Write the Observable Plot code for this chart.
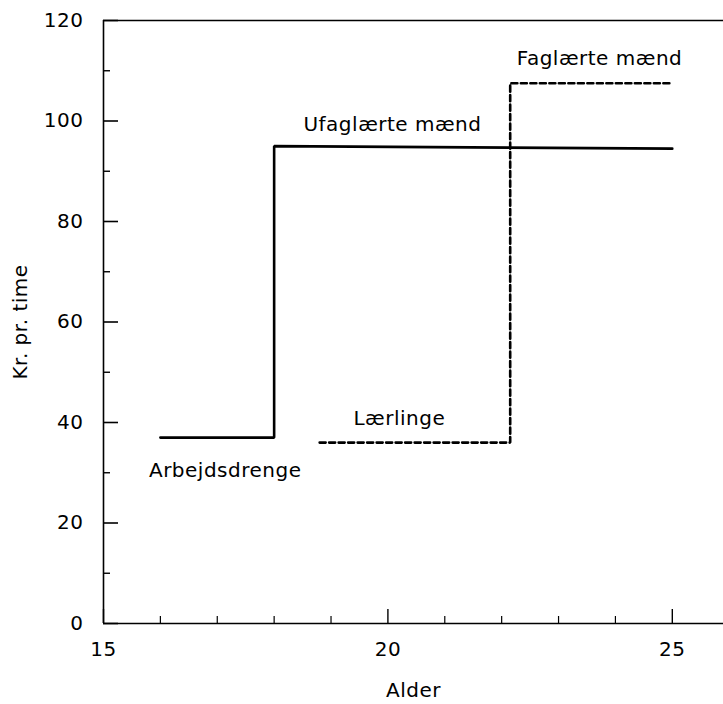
<!DOCTYPE html>
<html>
<head>
<meta charset="utf-8">
<script src="https://cdn.jsdelivr.net/npm/d3@7"></script>
<script src="https://cdn.jsdelivr.net/npm/@observablehq/plot@0.6"></script>
<style>
  html, body { margin: 0; padding: 0; background: #fff; }
</style>
</head>
<body>
<div id="chart"></div>
<script>
// Ufaglærte mænd (incl. Arbejdsdrenge) — solid step line
const ufaglaerteAlder = [16, 18, 18, 25];
const ufaglaerteKr    = [37, 37, 95, 94.5];

// Lærlinge -> Faglærte mænd — dashed step line
const laerlingeAlder = [18.8, 22.15, 22.15, 25];
const laerlingeKr    = [36, 36, 107.5, 107.5];

// In-chart labels
const labelText  = ["Faglærte mænd", "Ufaglærte mænd", "Lærlinge", "Arbejdsdrenge"];
const labelAlder = [23.72, 20.08, 20.2, 17.14];
const labelKr    = [112.4, 99.3, 40.8, 30.4];

// Axis ticks
const xMajor = [15, 20, 25];
const xMinor = [16, 17, 18, 19, 21, 22, 23, 24];
const yMajor = [0, 20, 40, 60, 80, 100, 120];
const yMinor = [10, 30, 50, 70, 90, 110];
const xTitle = "Alder";
const yTitle = "Kr. pr. time";

const solid = ufaglaerteAlder.map((a, i) => ({alder: a, kr: ufaglaerteKr[i]}));
const dashed = laerlingeAlder.map((a, i) => ({alder: a, kr: laerlingeKr[i]}));
const labels = labelText.map((t, i) => ({text: t, alder: labelAlder[i], kr: labelKr[i]}));

const FS = 20;
const chart = Plot.plot({
  width: 723,
  height: 704,
  marginLeft: 103,
  marginRight: 0,
  marginTop: 20,
  marginBottom: 81,
  style: {fontFamily: "'DejaVu Sans', sans-serif", fontSize: FS + "px", letterSpacing: "0.5px", color: "#000", background: "#fff"},
  x: {domain: [15, 25.9]},
  y: {domain: [0, 120]},
  marks: [
    // frame lines
    Plot.ruleX([15], {stroke: "#000", strokeWidth: 1.6}),
    Plot.ruleY([0, 120], {stroke: "#000", strokeWidth: 1.4}),
    // inward ticks
    Plot.axisX({ticks: xMajor, tickSize: 14, dy: -14, text: null, label: null, stroke: "#000", strokeWidth: 1.4}),
    Plot.axisX({ticks: xMinor, tickSize: 7, dy: -7, text: null, label: null, stroke: "#000", strokeWidth: 1.2}),
    Plot.axisY({ticks: yMajor, tickSize: 15, dx: 15, text: null, label: null, stroke: "#000", strokeWidth: 1.6}),
    Plot.axisY({ticks: yMinor, tickSize: 7, dx: 7, text: null, label: null, stroke: "#000", strokeWidth: 1.4}),
    // tick labels
    Plot.axisX({ticks: xMajor, tickSize: 0, tickPadding: 18, label: null, fontSize: FS, tickFormat: d => String(d)}),
    Plot.axisY({ticks: yMajor, tickSize: 0, tickPadding: 20, label: null, fontSize: FS, tickFormat: d => String(d)}),
    // axis titles
    Plot.text([xTitle], {frameAnchor: "bottom", dy: 73, text: d => d, fontSize: FS, textAnchor: "middle"}),
    Plot.text([yTitle], {frameAnchor: "left", dx: -83, rotate: -90, text: d => d, fontSize: FS, textAnchor: "middle", letterSpacing: "1.5px"}),
    // data lines
    Plot.line(solid, {x: "alder", y: "kr", stroke: "#000", strokeWidth: 2.6, strokeLinejoin: "miter"}),
    Plot.line(dashed, {x: "alder", y: "kr", stroke: "#000", strokeWidth: 2.6, strokeDasharray: "6,3.5", strokeLinejoin: "miter"}),
    // labels
    Plot.text(labels, {x: "alder", y: "kr", text: "text", fontSize: FS, fill: "#000"})
  ]
});
document.getElementById("chart").appendChild(chart);
</script>
</body>
</html>
